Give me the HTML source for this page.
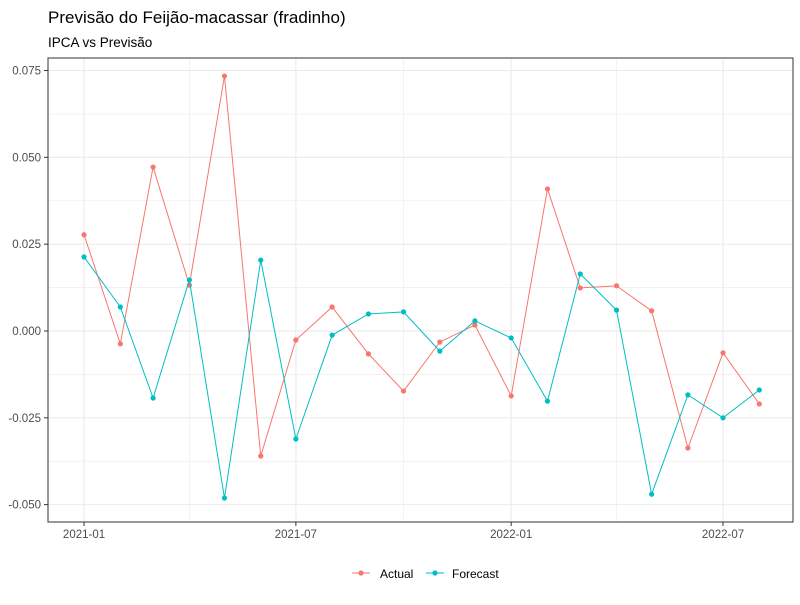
<!DOCTYPE html>
<html><head><meta charset="utf-8"><style>
body{margin:0;background:#fff;font-family:"Liberation Sans",sans-serif;}
</style></head><body>
<svg id="chart" width="800" height="600" xmlns="http://www.w3.org/2000/svg">
<text x="48" y="23" font-size="17" fill="#000">Previsão do Feijão-macassar (fradinho)</text>
<text x="48" y="47" font-size="13.5" fill="#000">IPCA vs Previsão</text>
<g id="grid"></g>
<g id="marks"></g>
<rect x="48" y="58" width="745" height="464" fill="none" stroke="#333" stroke-width="1"/>
<g id="axes"></g>
<g>
<g>
<line x1="352" y1="573" x2="370" y2="573" stroke="#F8766D"/><circle cx="361" cy="573" r="2.6" fill="#F8766D"/>
<text x="380" y="578" font-size="12" fill="#000">Actual</text></g>
<g>
<line x1="426" y1="573" x2="444" y2="573" stroke="#00BFC4"/><circle cx="435" cy="573" r="2.6" fill="#00BFC4"/>
<text x="452" y="578" font-size="12" fill="#000">Forecast</text></g>
</g>
</svg>
<script>
const months = ["2021-01","2021-02","2021-03","2021-04","2021-05","2021-06","2021-07","2021-08","2021-09","2021-10","2021-11","2021-12","2022-01","2022-02","2022-03","2022-04","2022-05","2022-06","2022-07","2022-08"];
const actual = [0.0277,-0.0037,0.0472,0.0132,0.0734,-0.036,-0.0026,0.0069,-0.0066,-0.0173,-0.0032,0.0017,-0.0187,0.0409,0.0124,0.013,0.0058,-0.0337,-0.0063,-0.021];
const forecast = [0.0213,0.0069,-0.0193,0.0147,-0.0481,0.0204,-0.0311,-0.0012,0.0049,0.0055,-0.0058,0.0029,-0.002,-0.0202,0.0164,0.006,-0.047,-0.0184,-0.025,-0.017];
const yTicks = [-0.05,-0.025,0,0.025,0.05,0.075];
const yTickLabels = ["-0.050","-0.025","0.000","0.025","0.050","0.075"];
const xTicks = ["2021-01","2021-07","2022-01","2022-07"];
const xMinor = ["2021-04","2021-10","2022-04"];

const NS="http://www.w3.org/2000/svg";
const t0=Date.UTC(2021,0,1);
function days(m){const [y,mo]=m.split("-").map(Number);return (Date.UTC(y,mo-1,1)-t0)/86400000;}
const X0=-30.8,X1=605.8,Y0=-0.055,Y1=0.0786;
function x(m){return 48+(days(m)-X0)/(X1-X0)*745;}
function y(v){return 522-(v-Y0)/(Y1-Y0)*464;}
function mk(tag,attrs,parent){const e=document.createElementNS(NS,tag);for(const k in attrs)e.setAttribute(k,attrs[k]);parent.appendChild(e);return e;}
const grid=document.getElementById("grid"),marks=document.getElementById("marks"),axes=document.getElementById("axes");
for(let i=0;i<yTicks.length-1;i++){const v=(yTicks[i]+yTicks[i+1])/2;
 const l=mk("line",{x1:48,x2:793,y1:y(v),y2:y(v),stroke:"#ebebeb","stroke-width":0.6},grid);
 
 }
xMinor.forEach(m=>{const l=mk("line",{x1:x(m),x2:x(m),y1:58,y2:522,stroke:"#ebebeb","stroke-width":0.6},grid);
 
 });
yTicks.forEach((v,i)=>{const l=mk("line",{x1:48,x2:793,y1:y(v),y2:y(v),stroke:"#ebebeb","stroke-width":1.1},grid);
 
 
 mk("line",{x1:44,x2:48,y1:y(v),y2:y(v),stroke:"#333"},axes);
 const t=mk("text",{x:41,y:y(v)+4,"text-anchor":"end","font-size":"11.5",fill:"#4d4d4d"},axes);t.textContent=yTickLabels[i];
 
 });
xTicks.forEach(m=>{const l=mk("line",{x1:x(m),x2:x(m),y1:58,y2:522,stroke:"#ebebeb","stroke-width":1.1},grid);
 
 
 mk("line",{x1:x(m),x2:x(m),y1:522,y2:526,stroke:"#333"},axes);
 const t=mk("text",{x:x(m),y:538,"text-anchor":"middle","font-size":"11.5",fill:"#4d4d4d"},axes);t.textContent=m;
 
 });
function series(vals,color,name){
 const p=mk("polyline",{points:vals.map((v,i)=>x(months[i])+","+y(v)).join(" "),fill:"none",stroke:color,"stroke-width":1},marks);
 
 
 vals.forEach((v,i)=>{const c=mk("circle",{cx:x(months[i]),cy:y(v),r:2.6,fill:color},marks);
  
  });
}
series(actual,"#F8766D","actual");
series(forecast,"#00BFC4","forecast");
</script>
</body></html>
